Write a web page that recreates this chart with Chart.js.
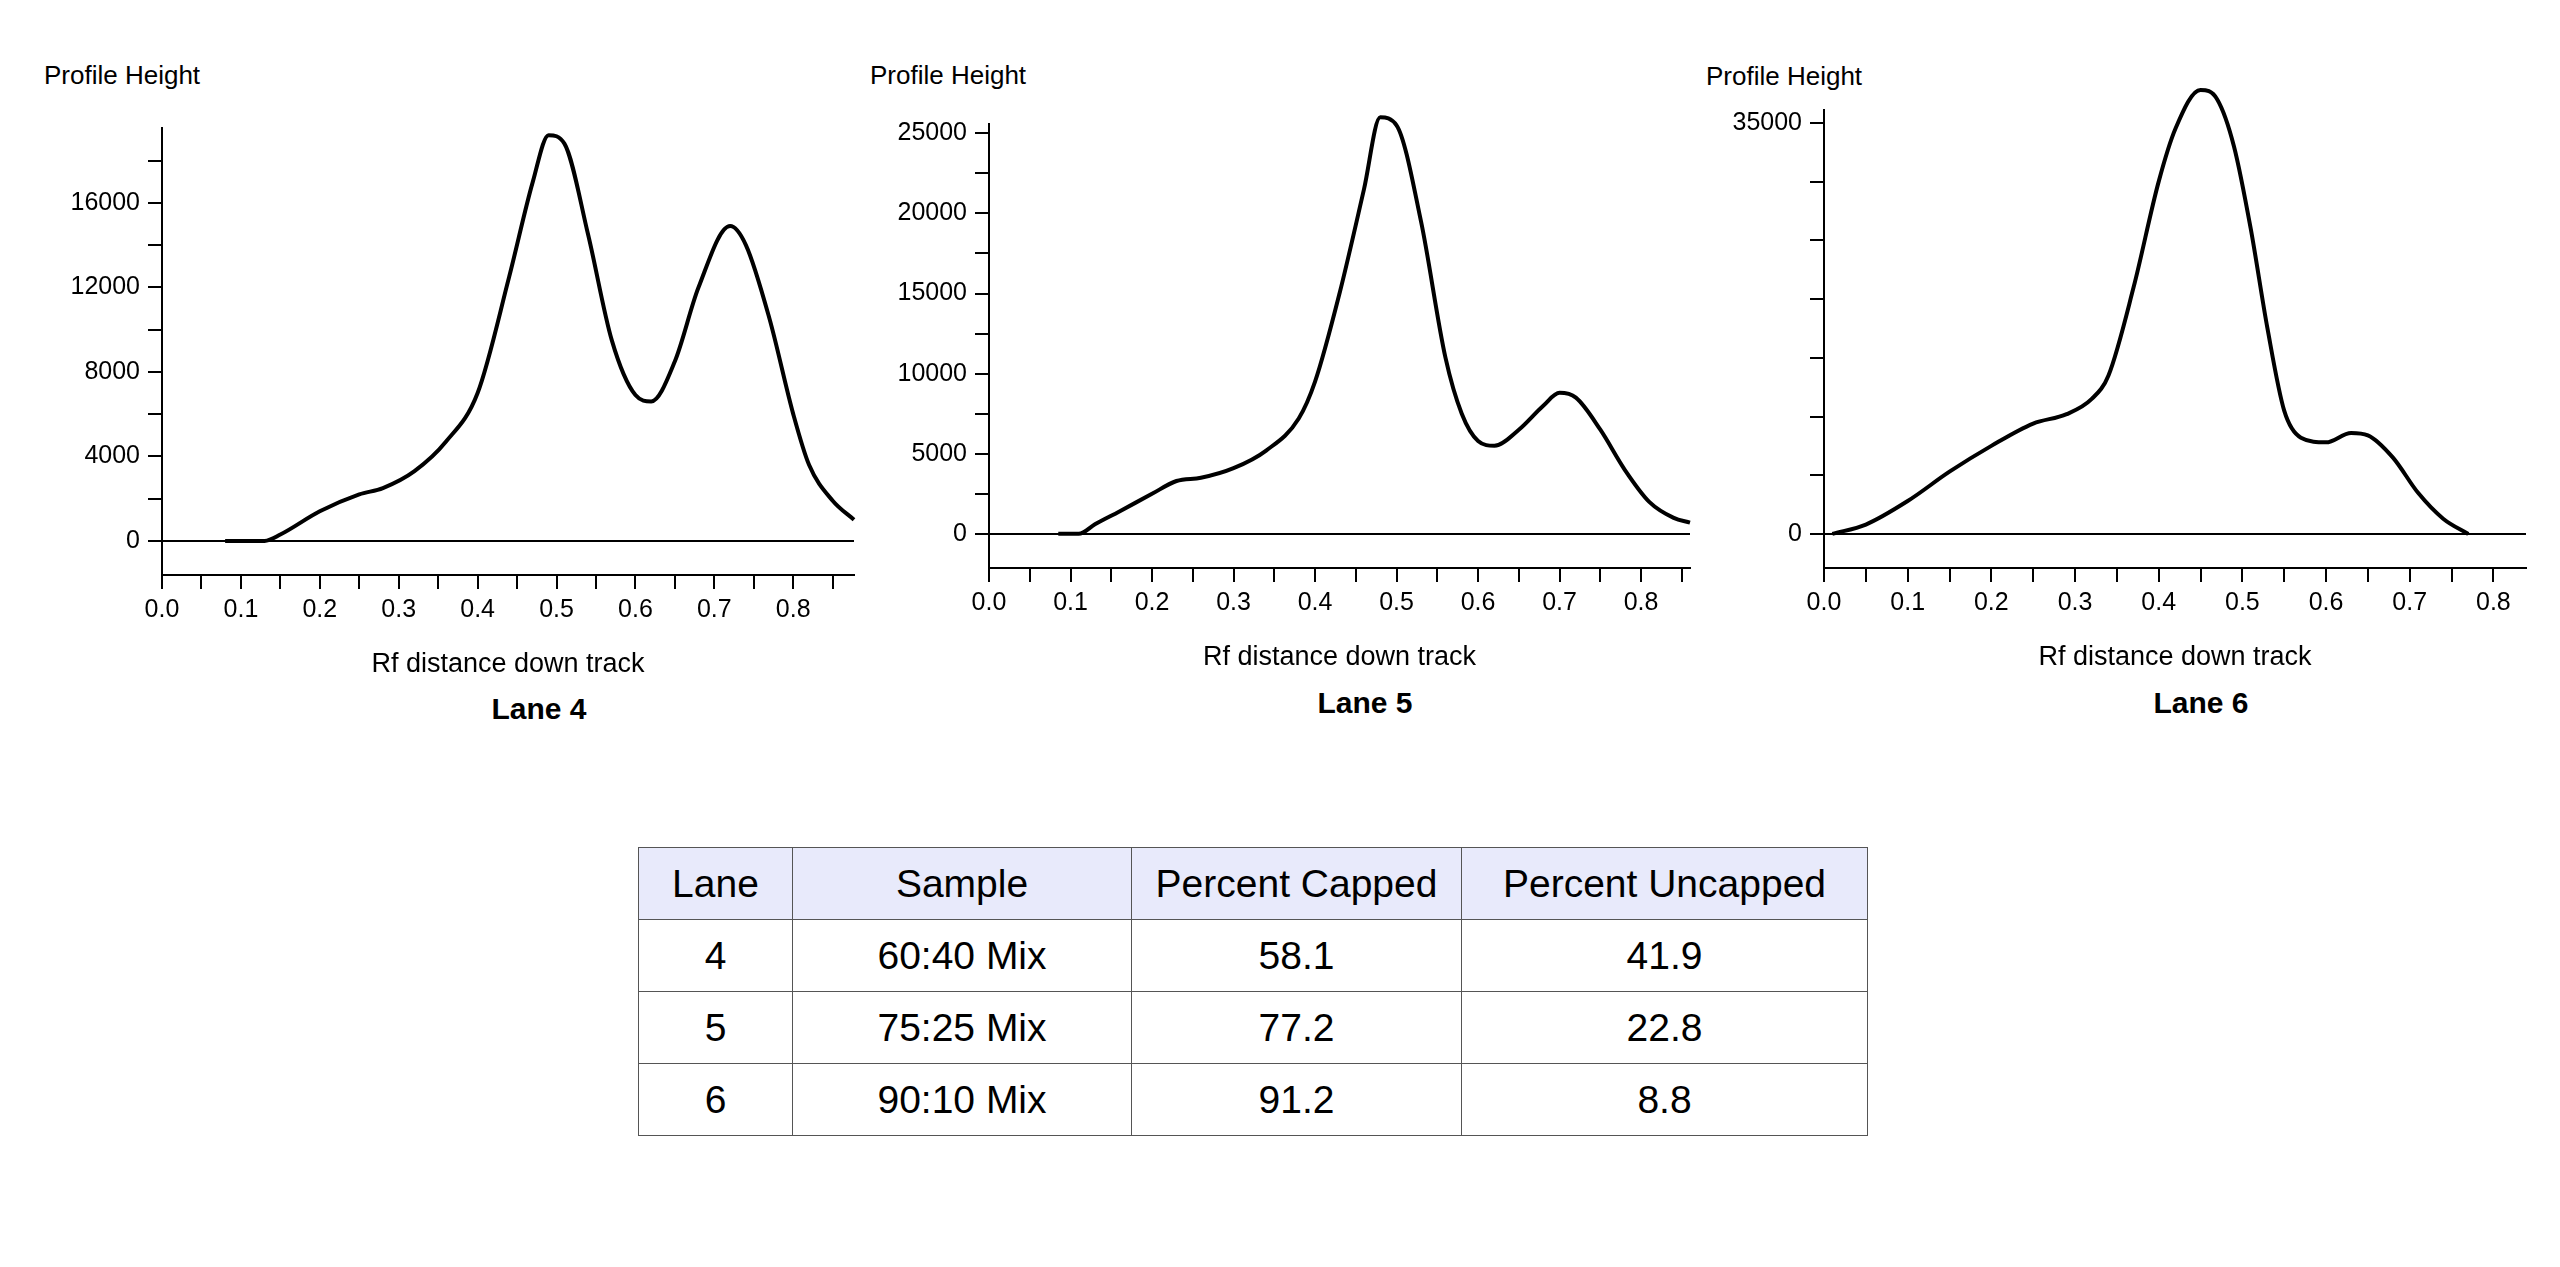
<!DOCTYPE html>
<html>
<head>
<meta charset="utf-8">
<script src="https://cdn.jsdelivr.net/npm/chart.js@4"></script>
<style>
  body { margin: 0; width: 2560px; height: 1267px; background: #fff; position: relative; font-family: "Liberation Sans", Arial, sans-serif; }
  .box { position: absolute; }
  .ylab { position: absolute; font-size: 26px; color: #000; }
  .lane { position: absolute; font-size: 30px; font-weight: bold; color: #000; transform: translateX(-50%); }
  table { position: absolute; left: 638px; top: 847px; border-collapse: collapse; font-size: 39px; }
  td, th { border: 1.5px solid #555; text-align: center; font-weight: normal; height: 71px; padding: 0; }
  th { background: #e8eafb; }
</style>
</head>
<body>
<div class="ylab" style="left:44px;top:60px">Profile Height</div>
<div class="ylab" style="left:870px;top:60px">Profile Height</div>
<div class="ylab" style="left:1706px;top:61px">Profile Height</div>
<div class="lane" style="left:539px;top:692px">Lane 4</div>
<div class="lane" style="left:1365px;top:686px">Lane 5</div>
<div class="lane" style="left:2201px;top:686px">Lane 6</div>
<div class="box" style="left:12px;top:105px;width:852px;height:580px"><canvas id="c4"></canvas></div>
<div class="box" style="left:839px;top:101px;width:861px;height:577px"><canvas id="c5"></canvas></div>
<div class="box" style="left:1674px;top:87px;width:862px;height:591px"><canvas id="c6"></canvas></div>
<table>
  <tr><th style="width:153px">Lane</th><th style="width:338px">Sample</th><th style="width:329px">Percent Capped</th><th style="width:405px">Percent Uncapped</th></tr>
</table>
<script>
'use strict';
// data
var lane4X = [0.08, 0.13, 0.15, 0.2, 0.25, 0.28, 0.32, 0.36, 0.4, 0.44, 0.47, 0.49, 0.51, 0.54, 0.57, 0.6, 0.62, 0.65, 0.68, 0.72, 0.74, 0.77, 0.8, 0.82, 0.85, 0.877];
var lane4Y = [0, 0, 300, 1400, 2200, 2500, 3300, 4700, 7000, 12500, 17000, 19200, 18800, 14500, 9500, 6900, 6600, 8500, 12000, 14900, 14000, 10500, 6000, 3600, 1900, 1000];
var lane5X = [0.085, 0.11, 0.13, 0.16, 0.2, 0.23, 0.26, 0.3, 0.34, 0.38, 0.4, 0.43, 0.46, 0.48, 0.5, 0.53, 0.56, 0.58, 0.6, 0.62, 0.65, 0.68, 0.7, 0.72, 0.75, 0.78, 0.81, 0.84, 0.86];
var lane5Y = [0, 0, 600, 1400, 2500, 3300, 3500, 4100, 5200, 7200, 9500, 15000, 21500, 26000, 25500, 19500, 11000, 7500, 5800, 5500, 6500, 8000, 8800, 8500, 6500, 4000, 2000, 1000, 700];
var lane6X = [0.01, 0.05, 0.1, 0.15, 0.2, 0.25, 0.29, 0.32, 0.34, 0.37, 0.4, 0.42, 0.45, 0.47, 0.49, 0.51, 0.53, 0.55, 0.57, 0.6, 0.63, 0.65, 0.68, 0.71, 0.74, 0.77];
var lane6Y = [0, 800, 2800, 5300, 7500, 9400, 10200, 11500, 13500, 21000, 30000, 34500, 37800, 37000, 33000, 26000, 17500, 10500, 8200, 7800, 8600, 8400, 6500, 3500, 1300, 0];

var lanes = ['4', '5', '6'];
var samples = ['60:40 Mix', '75:25 Mix', '90:10 Mix'];
var capped = ['58.1', '77.2', '91.2'];
var uncapped = ['41.9', '22.8', '8.8'];

// table rows
var table = document.querySelector('table');
for (var i = 0; i < lanes.length; i++) {
    var tr = document.createElement('tr');
    [lanes[i], samples[i], capped[i], uncapped[i]].forEach(function (t) {
        var td = document.createElement('td');
        td.textContent = t;
        tr.appendChild(td);
    });
    table.appendChild(tr);
}

var font = { family: '"Liberation Sans", Arial, sans-serif', size: 25 };

function makeChart(id, xs, ys, xMax, yMin, yMax, yStep, labelEvery, showOnly) {
    var pts = xs.map(function (x, i) { return { x: x, y: ys[i] }; });
    new Chart(document.getElementById(id), {
        type: 'line',
        data: { datasets: [{ data: pts, borderColor: '#000', borderWidth: 4, pointRadius: 0, cubicInterpolationMode: 'monotone', clip: false, fill: false }] },
        options: {
            responsive: true, maintainAspectRatio: false, animation: false,
            layout: { padding: { top: 10, right: 10, left: 0, bottom: 0 } },
            plugins: { legend: { display: false }, tooltip: { enabled: false } },
            scales: {
                x: {
                    type: 'linear', min: 0, max: xMax,
                    afterBuildTicks: function (s) {
                        var t = [];
                        for (var v = 0; v <= xMax + 1e-9; v += 0.05) t.push({ value: Math.round(v * 100) / 100 });
                        s.ticks = t;
                    },
                    afterFit: function (s) { s.height = 110; },
                    border: { display: true, color: '#000', width: 2 },
                    grid: { drawOnChartArea: false, color: '#000', tickLength: 14, lineWidth: 2 },
                    ticks: {
                        color: '#000', font: font, padding: 6, maxRotation: 0, autoSkip: false,
                        callback: function (v) { return Math.abs(v * 10 - Math.round(v * 10)) < 1e-6 ? v.toFixed(1) : ''; }
                    },
                    title: { display: true, text: 'Rf distance down track', color: '#000', font: { family: font.family, size: 27 }, padding: { top: 4 } }
                },
                y: {
                    type: 'linear', min: yMin, max: yMax,
                    afterBuildTicks: function (s) {
                        var t = [];
                        for (var v = 0; v <= yMax; v += yStep) t.push({ value: v });
                        s.ticks = t;
                    },
                    afterFit: function (s) { s.width = 150; },
                    border: { display: true, color: '#000', width: 2 },
                    grid: {
                        drawOnChartArea: true, tickLength: 14, lineWidth: 2, tickColor: '#000',
                        color: function (c) { return c.tick && c.tick.value === 0 ? '#000' : 'rgba(0,0,0,0)'; }
                    },
                    ticks: {
                        color: '#000', font: font, padding: 8, autoSkip: false,
                        callback: function (v) {
                            if (showOnly) return showOnly.indexOf(v) >= 0 ? String(v) : '';
                            return v % labelEvery === 0 ? String(v) : '';
                        }
                    }
                }
            }
        }
    });
}

makeChart('c4', lane4X, lane4Y, 0.877, -1615, 19540, 2000, 4000, null);
makeChart('c5', lane5X, lane5Y, 0.86, -2130, 25580, 2500, 5000, null);
makeChart('c6', lane6X, lane6Y, 0.839, -2900, 36100, 5000, 5000, [0, 35000]);
</script>
</body>
</html>
